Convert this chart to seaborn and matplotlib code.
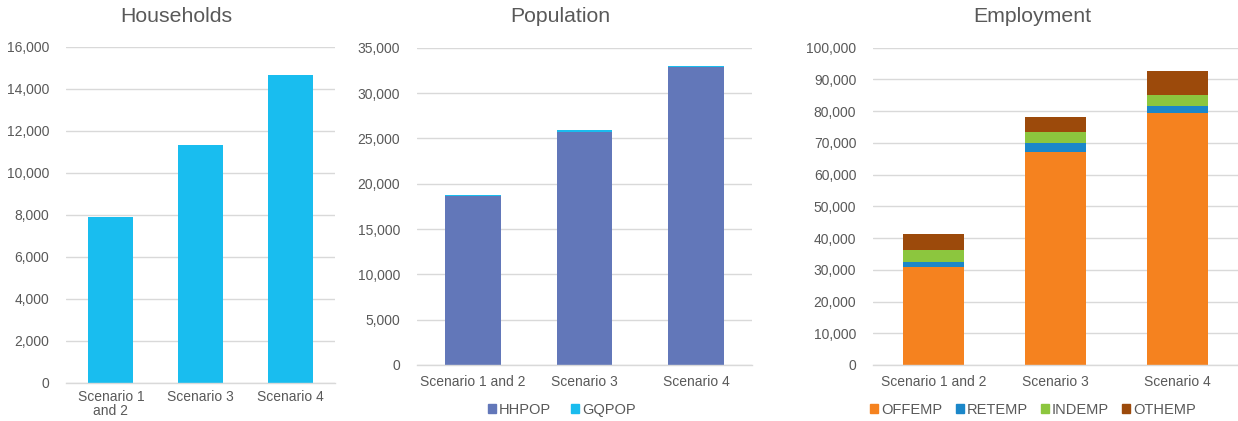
import matplotlib
matplotlib.use("Agg")
import matplotlib.pyplot as plt
from matplotlib.patches import Patch
from matplotlib.ticker import FuncFormatter
import numpy as np
import pandas as pd
import seaborn as sns

# Scenario totals
scenarios_hh = ["Scenario 1\nand 2", "Scenario 3", "Scenario 4"]
scenarios = ["Scenario 1 and 2", "Scenario 3", "Scenario 4"]

households = [7900, 11350, 14650]

hhpop = [18650, 25750, 32850]
gqpop = [150, 150, 120]

offemp = [30800, 67000, 79500]
retemp = [1700, 2900, 2200]
indemp = [3700, 3500, 3400]
othemp = [5100, 4900, 7700]

sns.set_theme(style="whitegrid")
plt.rcParams["font.family"] = ["Liberation Sans", "DejaVu Sans"]

W, H = 1238, 421
fig = plt.figure(figsize=(W / 100, H / 100), dpi=100)
fig.patch.set_facecolor("white")

TEXT = "#595959"
GRID = "#D9D9D9"
BAR_KW = dict(saturation=1, width=0.5, linewidth=0, edgecolor="none")


def add_axes(left, right, bottom, top):
    return fig.add_axes([left / W, 1 - bottom / H, (right - left) / W, (bottom - top) / H])


def style(ax, ymax, step):
    ax.set_ylim(0, ymax)
    ax.set_yticks(np.arange(0, ymax + 1, step))
    ax.yaxis.set_major_formatter(FuncFormatter(lambda v, p: f"{int(v):,}"))
    ax.grid(axis="y", color=GRID, linewidth=1.0)
    ax.grid(axis="x", visible=False)
    for s in ["left", "right", "top"]:
        ax.spines[s].set_visible(False)
    ax.spines["bottom"].set_color(GRID)
    ax.spines["bottom"].set_linewidth(1.0)
    ax.tick_params(axis="both", length=0, labelsize=10, colors=TEXT)
    ax.tick_params(axis="y", pad=12)
    ax.tick_params(axis="x", pad=7)
    ax.set_xlabel("")
    ax.set_ylabel("")
    ax.set_facecolor("white")


# Households
ax1 = add_axes(66, 335, 383, 47)
df_hh = pd.DataFrame({"scenario": scenarios_hh, "value": households})
sns.barplot(data=df_hh, x="scenario", y="value", color="#19BDEF", ax=ax1, **BAR_KW)
style(ax1, 16000, 2000)
ax1.tick_params(axis="x", pad=5)
for lbl in ax1.get_xticklabels():
    lbl.set_linespacing(1.05)
fig.text(176 / W, 1 - 17 / H, "Households", ha="center", va="center",
         fontsize=15.3, color=TEXT)

# Population (stacked: draw totals first, then the lower segment over it)
ax2 = add_axes(417, 752, 365, 47.7)
pop_colors = {"HHPOP": "#6277B9", "GQPOP": "#1ABCEE"}
df_pop = pd.DataFrame({"scenario": scenarios,
                       "HHPOP": hhpop, "GQPOP": gqpop})
df_pop["total"] = df_pop["HHPOP"] + df_pop["GQPOP"]
sns.barplot(data=df_pop, x="scenario", y="total", color=pop_colors["GQPOP"],
            ax=ax2, **BAR_KW)
sns.barplot(data=df_pop, x="scenario", y="HHPOP", color=pop_colors["HHPOP"],
            ax=ax2, **BAR_KW)
style(ax2, 35000, 5000)
fig.text(560 / W, 1 - 17 / H, "Population", ha="center", va="center",
         fontsize=15.3, color=TEXT)
fig.legend(handles=[Patch(color=c, label=k) for k, c in pop_colors.items()],
           loc="center", bbox_to_anchor=(562 / W, 1 - 410 / H), ncol=2,
           frameon=False, fontsize=10.5, labelcolor=TEXT, handlelength=0.55,
           handleheight=0.55, handletextpad=0.2, columnspacing=1.4)

# Employment (stacked)
ax3 = add_axes(873, 1238, 365, 47.7)
emp_parts = [("OFFEMP", offemp, "#F5821F"), ("RETEMP", retemp, "#1B87C9"),
             ("INDEMP", indemp, "#8CC63E"), ("OTHEMP", othemp, "#9C4A0B")]
df_emp = pd.DataFrame({"scenario": scenarios})
cum = np.zeros(len(scenarios))
cum_cols = []
for name, vals, col in emp_parts:
    cum = cum + np.array(vals)
    df_emp[name + "_cum"] = cum
    cum_cols.append((name, col))
for name, col in reversed(cum_cols):
    sns.barplot(data=df_emp, x="scenario", y=name + "_cum", color=col,
                ax=ax3, **BAR_KW)
style(ax3, 100000, 10000)
fig.text(1032 / W, 1 - 17 / H, "Employment", ha="center", va="center",
         fontsize=15.3, color=TEXT)
fig.legend(handles=[Patch(color=c, label=n) for n, c in cum_cols],
           loc="center", bbox_to_anchor=(1033 / W, 1 - 410 / H), ncol=4,
           frameon=False, fontsize=10.5, labelcolor=TEXT, handlelength=0.55,
           handleheight=0.55, handletextpad=0.2, columnspacing=0.9)

fig.savefig("out.png", dpi=100, facecolor="white")
